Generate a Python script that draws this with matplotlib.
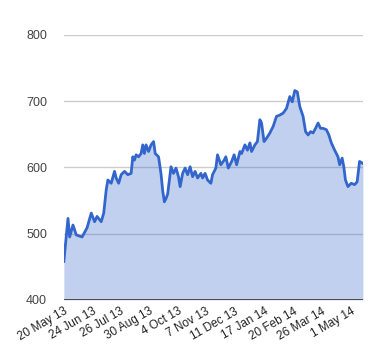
import numpy as np
import pandas as pd
import matplotlib
matplotlib.use('Agg')
import matplotlib.pyplot as plt

plt.rcParams['font.family'] = ['Liberation Sans', 'DejaVu Sans']

dates = [
    '2013-05-20', '2013-05-25', '2013-05-27', '2013-05-31', '2013-06-04',
    '2013-06-11', '2013-06-17', '2013-06-22', '2013-06-26', '2013-06-29',
    '2013-07-04', '2013-07-07', '2013-07-10', '2013-07-12', '2013-07-16',
    '2013-07-20', '2013-07-22', '2013-07-25', '2013-07-28', '2013-08-01',
    '2013-08-05', '2013-08-09', '2013-08-11', '2013-08-13', '2013-08-15',
    '2013-08-18', '2013-08-21', '2013-08-23', '2013-08-25', '2013-08-27',
    '2013-08-30', '2013-09-02', '2013-09-05', '2013-09-07', '2013-09-11',
    '2013-09-14', '2013-09-16', '2013-09-18', '2013-09-20', '2013-09-22',
    '2013-09-26', '2013-09-29', '2013-10-02', '2013-10-05', '2013-10-07',
    '2013-10-10', '2013-10-13', '2013-10-16', '2013-10-19', '2013-10-22',
    '2013-10-25', '2013-10-28', '2013-11-01', '2013-11-03', '2013-11-06',
    '2013-11-09', '2013-11-13', '2013-11-15', '2013-11-19', '2013-11-21',
    '2013-11-25', '2013-11-29', '2013-12-01', '2013-12-04', '2013-12-08',
    '2013-12-11', '2013-12-14', '2013-12-18', '2013-12-20', '2013-12-24',
    '2013-12-27', '2013-12-30', '2014-01-01', '2014-01-05', '2014-01-08',
    '2014-01-11', '2014-01-13', '2014-01-16', '2014-01-19', '2014-01-23',
    '2014-01-27', '2014-01-31', '2014-02-04', '2014-02-08', '2014-02-12',
    '2014-02-16', '2014-02-19', '2014-02-22', '2014-02-25', '2014-02-28',
    '2014-03-04', '2014-03-07', '2014-03-10', '2014-03-13', '2014-03-16',
    '2014-03-19', '2014-03-22', '2014-03-25', '2014-03-28', '2014-04-01',
    '2014-04-04', '2014-04-07', '2014-04-11', '2014-04-15', '2014-04-17',
    '2014-04-20', '2014-04-22', '2014-04-24', '2014-04-27', '2014-05-01',
    '2014-05-05', '2014-05-08', '2014-05-11', '2014-05-15',
]
values = [
    458, 523, 495, 513, 498,
    495, 509, 531, 518, 526,
    518, 531, 566, 581, 576,
    594, 584, 576, 589, 594,
    589, 591, 616, 611, 619,
    616, 621, 634, 621, 634,
    624, 634, 639, 621, 616,
    590, 565, 548, 553, 560,
    601, 591, 599, 586, 571,
    591, 599, 589, 601, 586,
    594, 584, 591, 584, 591,
    581, 576, 589, 599, 619,
    604, 611, 616, 599, 609,
    619, 604, 624, 621, 634,
    626, 637, 624, 634, 639,
    672, 667, 639, 644, 652,
    662, 677, 679, 682, 689,
    707, 699, 716, 714, 692,
    677, 654, 649, 654, 652,
    659, 667, 659, 659, 657,
    649, 637, 626, 616, 604,
    614, 601, 581, 571, 576,
    574, 578, 609, 606,
]
tick_dates = ['2013-05-20', '2013-06-24', '2013-07-26', '2013-08-30', '2013-10-04',
              '2013-11-07', '2013-12-11', '2014-01-17', '2014-02-20', '2014-03-26',
              '2014-05-01']
tick_labels = ['20 May 13', '24 Jun 13', '26 Jul 13', '30 Aug 13', '4 Oct 13',
               '7 Nov 13', '11 Dec 13', '17 Jan 14', '20 Feb 14', '26 Mar 14',
               '1 May 14']
y_ticks = [400, 500, 600, 700, 800]

x = pd.to_datetime(dates)

fig = plt.figure(figsize=(3.8, 3.6), dpi=100)
ax = fig.add_axes([0.168, 0.167, 0.787, 0.736])

for v in y_ticks[1:]:
    ax.axhline(v, color='#cccccc', linewidth=1, zorder=1)
ax.fill_between(x, 400, values, color='#3366cc', alpha=0.3, linewidth=0, zorder=2)
ax.plot(x, values, color='#3366cc', linewidth=2, zorder=3)
ax.axhline(400, color='#333333', linewidth=1.2, zorder=4)

ax.set_ylim(400, 800)
ax.set_xlim(x[0], x[-1])
ax.set_yticks(y_ticks)
ax.set_yticklabels([str(v) for v in y_ticks], color='#444444', fontsize=9)

ax.set_xticks(pd.to_datetime(tick_dates))
ax.set_xticklabels(tick_labels, rotation=30, ha='right', rotation_mode='anchor',
                   fontsize=8.5, color='#222222')
ax.tick_params(axis='both', length=0)
ax.tick_params(axis='y', pad=12)
ax.tick_params(axis='x', pad=4)
for s in ax.spines.values():
    s.set_visible(False)

fig.savefig('out.png', dpi=100)
